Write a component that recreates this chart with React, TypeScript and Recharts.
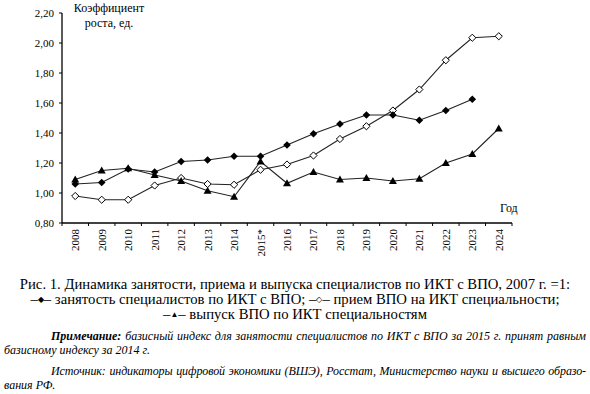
import React from "react";
import { LineChart, Line, XAxis, YAxis } from "recharts";

const years = ["2008", "2009", "2010", "2011", "2012", "2013", "2014", "2015*", "2016", "2017", "2018", "2019", "2020", "2021", "2022", "2023", "2024"];
const employment = [1.06, 1.07, 1.16, 1.14, 1.21, 1.22, 1.245, 1.245, 1.32, 1.395, 1.46, 1.52, 1.52, 1.485, 1.55, 1.625, null];
const admission = [0.98, 0.955, 0.955, 1.05, 1.1, 1.06, 1.055, 1.155, 1.19, 1.25, 1.36, 1.445, 1.55, 1.69, 1.885, 2.035, 2.045];
const graduation = [1.09, 1.15, 1.165, 1.12, 1.08, 1.015, 0.975, 1.21, 1.065, 1.14, 1.09, 1.1, 1.08, 1.095, 1.2, 1.26, 1.43];
const yTicks = [0.8, 1.0, 1.2, 1.4, 1.6, 1.8, 2.0, 2.2];

const data = years.map((y, i) => ({ year: y, emp: employment[i], adm: admission[i], grad: graduation[i] }));

const SERIF = "'Liberation Serif', 'Times New Roman', serif";
const W = 590;
const CH = 260;
const M = { top: 13, right: 78, left: 0, bottom: 0 };
const YW = 62;
const PLOT_W = W - M.left - M.right - YW;
const HALF_BAND = PLOT_W / years.length / 2;
const LINE = "#222";

const FilledDiamond = (p: any) => {
  const { cx, cy } = p;
  if (cx == null || cy == null || p.value == null) return <g key={p.index} />;
  const r = 3.8;
  return <polygon key={p.index} points={`${cx},${cy - r} ${cx + r},${cy} ${cx},${cy + r} ${cx - r},${cy}`} fill="#000" />;
};

const OpenDiamond = (p: any) => {
  const { cx, cy } = p;
  if (cx == null || cy == null) return <g key={p.index} />;
  const r = 3.6;
  return <polygon key={p.index} points={`${cx},${cy - r} ${cx + r},${cy} ${cx},${cy + r} ${cx - r},${cy}`} fill="#fff" stroke="#000" strokeWidth={1} />;
};

const Triangle = (p: any) => {
  const { cx, cy } = p;
  if (cx == null || cy == null) return <g key={p.index} />;
  return <polygon key={p.index} points={`${cx},${cy - 4} ${cx + 4},${cy + 3} ${cx - 4},${cy + 3}`} fill="#000" />;
};

const YearTick = (p: any) => {
  const { x, y, payload, index } = p;
  const last = index === years.length - 1;
  return (
    <g>
      <line x1={x - HALF_BAND} x2={x - HALF_BAND} y1={y} y2={y + 3} stroke="#000" strokeWidth={1} />
      {last && <line x1={x + HALF_BAND} x2={x + HALF_BAND} y1={y} y2={y + 3} stroke="#000" strokeWidth={1} />}
      <text x={x} y={y + 6} transform={`rotate(-90 ${x} ${y + 6})`} textAnchor="end" dominantBaseline="central" fontFamily={SERIF} fontSize={11} fill="#000">
        {payload.value}
      </text>
    </g>
  );
};

const noteLine = (extra: React.CSSProperties): React.CSSProperties => ({
  position: "absolute",
  left: 4,
  width: 582,
  fontSize: 12,
  lineHeight: "14px",
  fontStyle: "italic",
  whiteSpace: "nowrap",
  ...extra,
});

const sym: React.CSSProperties = { fontSize: 8, verticalAlign: "2px" };

export default function App() {
  return (
    <div style={{ position: "fixed", left: 0, top: 0, width: W, height: 394, background: "#fff", fontFamily: SERIF, color: "#000", overflow: "hidden" }}>
      <LineChart width={W} height={CH} data={data} margin={M}>
        <XAxis
          dataKey="year"
          interval={0}
          height={37}
          padding={{ left: HALF_BAND, right: HALF_BAND }}
          tickSize={0}
          tickMargin={0}
          tickLine={false}
          axisLine={{ stroke: "#000", strokeWidth: 1.3 }}
          tick={<YearTick />}
        />
        <YAxis
          domain={[0.8, 2.2]}
          ticks={yTicks}
          width={YW}
          tickSize={3}
          tickMargin={5}
          tickLine={{ stroke: "#000" }}
          axisLine={{ stroke: "#000", strokeWidth: 1.3 }}
          tickFormatter={(v: number) => v.toFixed(2).replace(".", ",")}
          tick={{ fontFamily: SERIF, fontSize: 11, fill: "#000" }}
        />
        <Line dataKey="adm" stroke={LINE} strokeWidth={1.1} dot={OpenDiamond} activeDot={false} isAnimationActive={false} />
        <Line dataKey="grad" stroke={LINE} strokeWidth={1.1} dot={Triangle} activeDot={false} isAnimationActive={false} />
        <Line dataKey="emp" stroke={LINE} strokeWidth={1.1} dot={FilledDiamond} activeDot={false} isAnimationActive={false} connectNulls={false} />
      </LineChart>

      <div style={{ position: "absolute", left: 60, top: 1, width: 98, textAlign: "center", fontSize: 12, lineHeight: "15px" }}>
        Коэффициент<br />роста, ед.
      </div>
      <div style={{ position: "absolute", left: 500, top: 201, fontSize: 12, lineHeight: "15px" }}>Год</div>

      <div style={{ position: "absolute", left: 0, top: 277, width: W, textAlign: "center", fontSize: 14.7, lineHeight: "14.5px", whiteSpace: "nowrap" }}>
        Рис. 1. Динамика занятости, приема и выпуска специалистов по ИКТ с ВПО, 2007 г. =1:
        <br />
        –<span style={sym}>◆</span>– занятость специалистов по ИКТ с ВПО; –<span style={sym}>◇</span>– прием ВПО на ИКТ специальности;
        <br />
        –<span style={sym}>▲</span>– выпуск ВПО по ИКТ специальностям
      </div>

      <div style={noteLine({ top: 329, textAlign: "justify", textAlignLast: "justify", textIndent: 47 })}>
        <b>Примечание:</b> базисный индекс для занятости специалистов по ИКТ с ВПО за 2015 г. принят равным
      </div>
      <div style={noteLine({ top: 342.5 })}>базисному индексу за 2014 г.</div>
      <div style={noteLine({ top: 363.5, textAlign: "justify", textAlignLast: "justify", textIndent: 47, letterSpacing: -0.1 })}>
        Источник: индикаторы цифровой экономики (ВШЭ), Росстат, Министерство науки и высшего образо-
      </div>
      <div style={noteLine({ top: 377.5 })}>вания РФ.</div>
    </div>
  );
}
